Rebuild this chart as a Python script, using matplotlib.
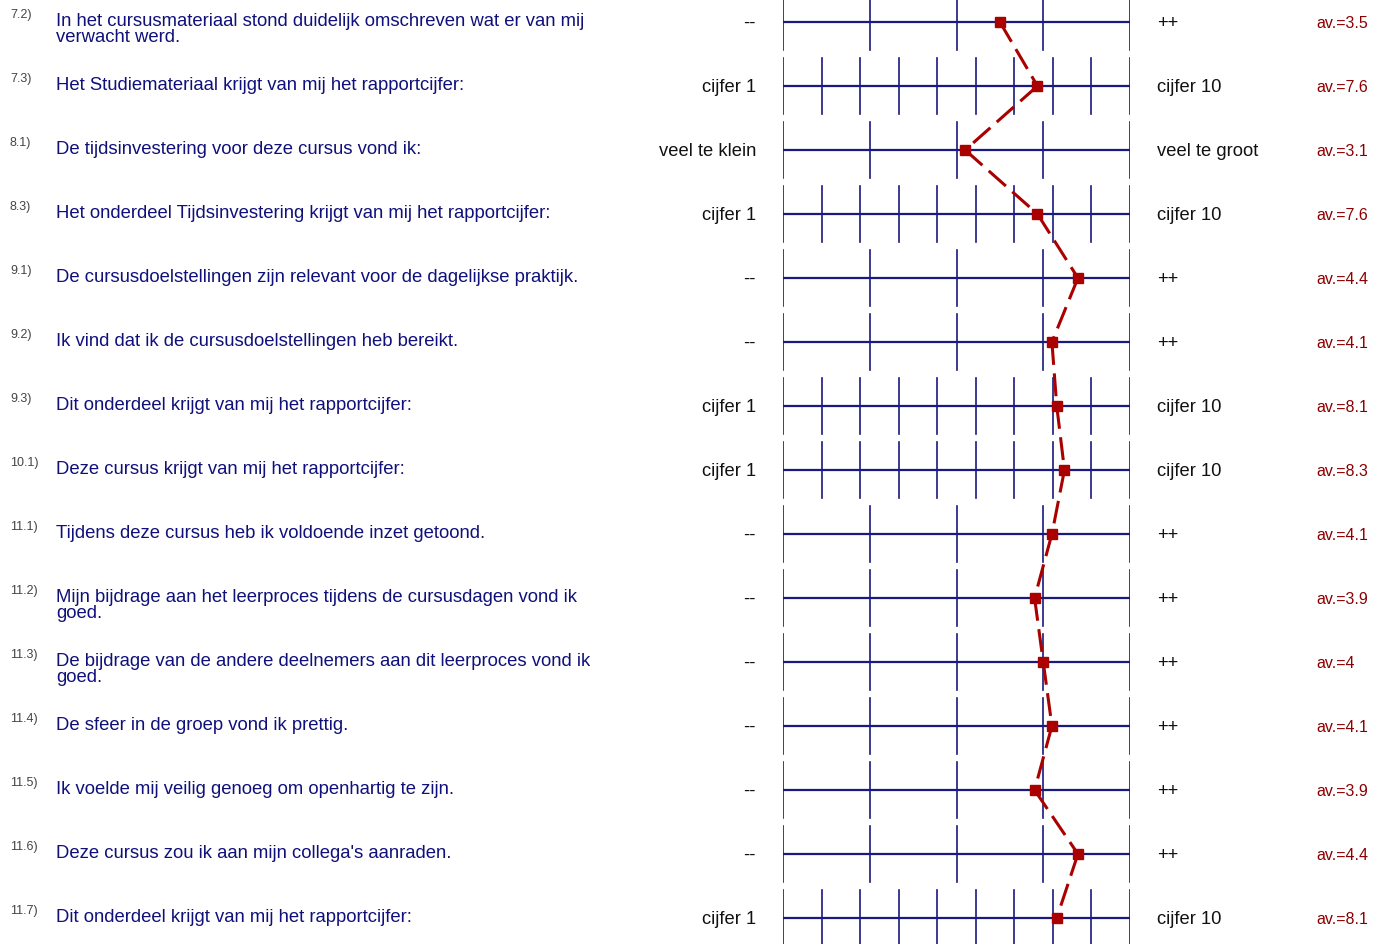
import matplotlib
matplotlib.use("Agg")
import matplotlib.pyplot as plt
from matplotlib.transforms import blended_transform_factory

plt.rcParams['font.family'] = ['Liberation Sans', 'DejaVu Sans']

numbers = ["7.2)", "7.3)", "8.1)", "8.3)", "9.1)", "9.2)", "9.3)", "10.1)",
           "11.1)", "11.2)", "11.3)", "11.4)", "11.5)", "11.6)", "11.7)"]
questions = [
    "In het cursusmateriaal stond duidelijk omschreven wat er van mij\nverwacht werd.",
    "Het Studiemateriaal krijgt van mij het rapportcijfer:",
    "De tijdsinvestering voor deze cursus vond ik:",
    "Het onderdeel Tijdsinvestering krijgt van mij het rapportcijfer:",
    "De cursusdoelstellingen zijn relevant voor de dagelijkse praktijk.",
    "Ik vind dat ik de cursusdoelstellingen heb bereikt.",
    "Dit onderdeel krijgt van mij het rapportcijfer:",
    "Deze cursus krijgt van mij het rapportcijfer:",
    "Tijdens deze cursus heb ik voldoende inzet getoond.",
    "Mijn bijdrage aan het leerproces tijdens de cursusdagen vond ik\ngoed.",
    "De bijdrage van de andere deelnemers aan dit leerproces vond ik\ngoed.",
    "De sfeer in de groep vond ik prettig.",
    "Ik voelde mij veilig genoeg om openhartig te zijn.",
    "Deze cursus zou ik aan mijn collega's aanraden.",
    "Dit onderdeel krijgt van mij het rapportcijfer:",
]
left_labels = ["--", "cijfer 1", "veel te klein", "cijfer 1", "--", "--", "cijfer 1", "cijfer 1",
               "--", "--", "--", "--", "--", "--", "cijfer 1"]
right_labels = ["++", "cijfer 10", "veel te groot", "cijfer 10", "++", "++", "cijfer 10", "cijfer 10",
                "++", "++", "++", "++", "++", "++", "cijfer 10"]
scale_points = [5, 10, 5, 10, 5, 5, 10, 10, 5, 5, 5, 5, 5, 5, 10]
averages = [3.5, 7.6, 3.1, 7.6, 4.4, 4.1, 8.1, 8.3, 4.1, 3.9, 4.0, 4.1, 3.9, 4.4, 8.1]
avg_labels = ["av.=3.5", "av.=7.6", "av.=3.1", "av.=7.6", "av.=4.4", "av.=4.1", "av.=8.1", "av.=8.3",
              "av.=4.1", "av.=3.9", "av.=4", "av.=4.1", "av.=3.9", "av.=4.4", "av.=8.1"]

W, H = 1385, 944
fig = plt.figure(figsize=(W / 100, H / 100), dpi=100)
x0, x1 = 783, 1130
ax = fig.add_axes([x0 / W, 0, (x1 - x0) / W, 1])
row_px = 64.0
top_px = 22.0
ax.set_ylim((H - top_px) / row_px, -top_px / row_px)
ax.set_xlim(0, 1)
ax.axis('off')

navy = '#1a1a7e'
red = '#aa0000'
n = len(questions)
half = 28 / row_px

for i in range(n):
    k = scale_points[i]
    ax.plot([0, 1], [i, i], color=navy, lw=1.6, solid_capstyle='butt', zorder=1)
    for j in range(k):
        xf = j / (k - 1)
        ax.plot([xf, xf], [i - half, i + half], color=navy, lw=1.2, zorder=1)

xs = [(a - 1) / (k - 1) for a, k in zip(averages, scale_points)]
ys = list(range(n))
for i in range(n - 1):
    ax.plot(xs[i:i + 2], ys[i:i + 2], color=red, lw=2.2, dashes=(7.5, 2.8),
            dash_capstyle='butt', zorder=3, clip_on=False)
ax.plot(xs, ys, ls='none', marker='s', ms=7, color=red, mec=red, zorder=4, clip_on=False)

tr = blended_transform_factory(fig.transFigure, ax.transData)
px = 1 / row_px
for i in range(n):
    fig.text(10 / W, i - 3.8 * px, numbers[i], transform=tr, fontsize=9, color='#444444',
             ha='left', va='baseline')
    fig.text(56 / W, i - 9.2 * px, questions[i], transform=tr, fontsize=13.35, color='#10107a',
             ha='left', va='top', linespacing=0.97)
    fig.text(756 / W, i + 6 * px, left_labels[i], transform=tr, fontsize=13.2, color='#111111',
             ha='right', va='baseline')
    fig.text(1157 / W, i + 6 * px, right_labels[i], transform=tr, fontsize=13.2, color='#111111',
             ha='left', va='baseline')
    fig.text(1316 / W, i + 6 * px, avg_labels[i], transform=tr, fontsize=11.5, color='#8b0000',
             ha='left', va='baseline')

fig.savefig('out.png', dpi=100)
